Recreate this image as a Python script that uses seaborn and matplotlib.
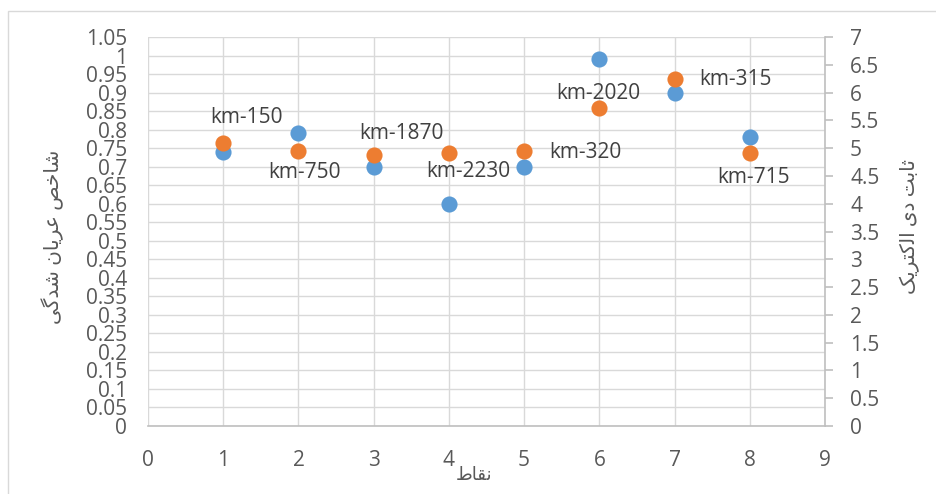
import numpy as np
import matplotlib
matplotlib.use("Agg")
import matplotlib.pyplot as plt
import seaborn as sns
from matplotlib.patches import Rectangle
from matplotlib.ticker import FuncFormatter

# ---- data -------------------------------------------------------------
points = [1, 2, 3, 4, 5, 6, 7, 8]
stripping_index = [0.74, 0.79, 0.70, 0.60, 0.70, 0.99, 0.90, 0.78]
dielectric_constant = [5.09, 4.95, 4.88, 4.91, 4.95, 5.73, 6.24, 4.91]
site_labels = ["km-150", "km-750", "km-1870", "km-2230",
               "km-320", "km-2020", "km-315", "km-715"]

# label placement relative to each orange point (pixels)
label_offsets = [(23, 26), (6, -22), (28, 21), (19, -18),
                 (61, -2), (-1, 14), (61, 0), (4, -24)]


def visual(*codes):
    """Persian text written as pre-shaped glyphs in display order."""
    return "".join(chr(c) for c in codes)


# "نقاط"
x_title = visual(0xFEC1, 0xFE8E, 0xFED8, 0xFEE7)
# "شاخص عریان شدگی"
left_title = (visual(0xFBFD, 0xFB94, 0xFEAA, 0xFEB7) + " "
              + visual(0xFEE5, 0xFE8E, 0xFBFE, 0xFEAE, 0xFECB) + " "
              + visual(0xFEBA, 0xFEA7, 0xFE8E, 0xFEB7))
# "ثابت دی الکتریک"
right_title = (visual(0xFB8F, 0xFBFE, 0xFEAE, 0xFE98, 0xFB90, 0xFEDF, 0xFE8D) + " "
               + visual(0xFBFC, 0xFEA9) + " "
               + visual(0xFE96, 0xFE91, 0xFE8E, 0xFE9B))

BLUE = "#5B9BD5"
ORANGE = "#ED7D31"
GRID = "#d9d9d9"
AXIS = "#bfbfbf"
TEXT = "#595959"
LABEL = "#404040"

sns.set_style("white")
plt.rcParams["font.family"] = ["Open Sans", "DejaVu Sans"]

W, H = 936, 494
fig = plt.figure(figsize=(W / 100, H / 100), dpi=100)
fig.patch.set_facecolor("white")

# chart-area border
fig.patches.append(Rectangle((8 / W, -0.05), 1.1, 0.05 + (H - 11) / H,
                             transform=fig.transFigure, fill=False,
                             edgecolor=GRID, linewidth=1.0))

left, right, top, bottom = 148, 825, 37, 426
ax = fig.add_axes([left / W, 1 - bottom / H, (right - left) / W, (bottom - top) / H])
ax2 = ax.twinx()

sns.scatterplot(x=points, y=stripping_index, ax=ax, color=BLUE, s=135,
                linewidth=0, zorder=3)
sns.scatterplot(x=points, y=dielectric_constant, ax=ax2, color=ORANGE, s=135,
                linewidth=0, zorder=3)

ax.set_xlim(0, 9)
ax.set_ylim(0, 1.05)
ax2.set_ylim(0, 7)

ax.set_xticks(range(0, 10))
ax.set_yticks(np.round(np.arange(0, 1.0501, 0.05), 2))
ax2.set_yticks(np.round(np.arange(0, 7.001, 0.5), 1))
fmt = FuncFormatter(lambda v, _: f"{v:g}")
ax.yaxis.set_major_formatter(fmt)
ax2.yaxis.set_major_formatter(fmt)

ax.set_axisbelow(True)
ax.grid(True, color=GRID, linewidth=1.0)
ax2.grid(False)

for a in (ax, ax2):
    for s in a.spines.values():
        s.set_visible(False)
ax.spines["bottom"].set_visible(True)
ax.spines["bottom"].set_color(AXIS)
ax.spines["bottom"].set_linewidth(1.2)
ax2.spines["right"].set_visible(True)
ax2.spines["right"].set_color(AXIS)
ax2.spines["right"].set_linewidth(1.2)

ax.tick_params(axis="x", length=0, pad=17, labelsize=15, labelcolor=TEXT)
ax.tick_params(axis="y", length=0, pad=15, labelsize=15, labelcolor=TEXT)
ax2.tick_params(axis="y", length=6, width=1.2, color=AXIS, direction="out",
                pad=12, labelsize=15, labelcolor=TEXT)

ax.set_xlabel(x_title, fontsize=13, color=TEXT)
ax.xaxis.set_label_coords((474 - left) / (right - left), (bottom - 466) / (bottom - top))
ax.set_ylabel(left_title, fontsize=14.5, color=TEXT, va="center")
ax.yaxis.set_label_coords((53 - left) / (right - left), (bottom - 237) / (bottom - top))
ax2.set_ylabel(right_title, fontsize=14.5, color=TEXT, rotation=90, va="center")
ax2.yaxis.set_label_coords((910 - left) / (right - left), (bottom - 226) / (bottom - top))

for x, y, text, (dx, dy) in zip(points, dielectric_constant, site_labels, label_offsets):
    ax2.annotate(text, xy=(x, y), xytext=(dx, dy), textcoords="offset pixels",
                 ha="center", va="center", fontsize=15, color=LABEL, zorder=4)

fig.savefig("out.png", dpi=100)
